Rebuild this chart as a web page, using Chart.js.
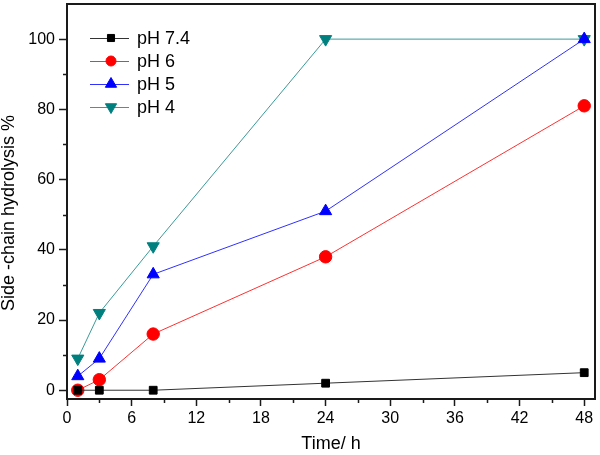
<!DOCTYPE html>
<html>
<head>
<meta charset="utf-8">
<script src="https://cdn.jsdelivr.net/npm/chart.js@4/dist/chart.umd.min.js"></script>
<style>
  html, body { margin: 0; padding: 0; background: #fff; }
  #wrap { width: 600px; height: 455px; }
</style>
</head>
<body>
<div id="wrap"><canvas id="hydroChart" width="600" height="455"></canvas></div>
<script>
// sampling times (h)
const times = [1, 3, 8, 24, 48];
// side-chain hydrolysis % for each pH
const ph74 = [0, 0, 0, 2, 5];
const ph6 = [0, 3, 16, 38, 81];
const ph5 = [4, 9, 33, 51, 100];
const ph4 = [9, 22, 41, 100, 100];

const seriesNames = ['pH 7.4', 'pH 6', 'pH 5', 'pH 4'];
const xTicks = [0, 6, 12, 18, 24, 30, 36, 42, 48];
const yTicks = [0, 20, 40, 60, 80, 100];
const xMinor = [3, 9, 15, 21, 27, 33, 39, 45];
const yMinor = [10, 30, 50, 70, 90];

function toPoints(vals){
    return vals.map((v, i) => ({x: times[i], y: v}));
}

const styles = [
    {color: '#000000', line: '#333333', point: 'rect', radius: 5.5, legR: 5},
    {color: '#ff0000', line: '#ff3030', point: 'circle', radius: 6.2, legR: 5},
    {color: '#0000ff', line: '#3030ff', point: 'triangle', radius: 7, legR: 6.5},
    {color: '#007f7f', line: '#3a9a9a', point: 'triangle', radius: 7, legR: 6.5, rotation: 180}
];

const allData = [ph74, ph6, ph5, ph4];
const fontFamily = '"Liberation Sans", Arial, sans-serif';

// frame, minor ticks, y title and legend
const framePlugin = {
    id: 'frame',
    afterDraw(chart){
        const ctx = chart.ctx;
        const a = chart.chartArea;
        const xs = chart.scales.x, ys = chart.scales.y;
        ctx.save();
        ctx.strokeStyle = '#1a1a1a';
        ctx.lineWidth = 2;
        ctx.strokeRect(a.left, a.top, a.right - a.left, a.bottom - a.top);
        ctx.lineWidth = 1.5;
        ctx.beginPath();
        xMinor.forEach(v => {
            const px = Math.round(xs.getPixelForValue(v)) + 0.5;
            ctx.moveTo(px, a.bottom);
            ctx.lineTo(px, a.bottom + 4);
        });
        yMinor.forEach(v => {
            const py = Math.round(ys.getPixelForValue(v)) + 0.5;
            ctx.moveTo(a.left, py);
            ctx.lineTo(a.left - 4, py);
        });
        ctx.stroke();

        // y axis title
        ctx.save();
        ctx.translate(9, 213);
        ctx.rotate(-Math.PI / 2);
        ctx.font = '18px ' + fontFamily;
        ctx.fillStyle = '#000';
        ctx.textAlign = 'center';
        ctx.textBaseline = 'middle';
        ctx.fillText('Side -chain hydrolysis %', 0, 0);
        ctx.restore();

        // legend
        ctx.font = '18px ' + fontFamily;
        ctx.textBaseline = 'middle';
        seriesNames.forEach((name, i) => {
            const s = styles[i];
            const y = 38 + i * 23;
            ctx.strokeStyle = s.line;
            ctx.lineWidth = 1;
            ctx.beginPath();
            ctx.moveTo(90, y + 0.5);
            ctx.lineTo(129, y + 0.5);
            ctx.stroke();
            ctx.fillStyle = s.color;
            ctx.strokeStyle = s.color;
            Chart.helpers.drawPoint(ctx, {pointStyle: s.point, radius: s.legR, rotation: s.rotation || 0, borderWidth: 1}, 111, y);
            ctx.fillStyle = '#000';
            ctx.fillText(name, 137, y + 1);
        });
        ctx.restore();
    }
};

function createChart(){
    const datasets = allData.map((vals, i) => ({
        label: seriesNames[i],
        data: toPoints(vals),
        borderColor: styles[i].line,
        borderWidth: 1,
        backgroundColor: styles[i].color,
        pointBackgroundColor: styles[i].color,
        pointBorderColor: styles[i].color,
        pointBorderWidth: 1,
        pointStyle: styles[i].point,
        pointRadius: styles[i].radius,
        pointRotation: styles[i].rotation || 0,
        tension: 0,
        fill: false,
        clip: false
    }));

    const font = {family: fontFamily, size: 16};

    new Chart(document.getElementById('hydroChart'), {
        type: 'line',
        data: {datasets: datasets},
        options: {
            responsive: false,
            animation: false,
            layout: {autoPadding: false, padding: {left: 0, right: 5, top: 4, bottom: 0}},
            plugins: {
                legend: {display: false},
                tooltip: {enabled: false}
            },
            scales: {
                x: {
                    type: 'linear',
                    min: 0,
                    max: 49,
                    afterBuildTicks: (scale) => { scale.ticks = xTicks.map(v => ({value: v})); },
                    afterFit: (scale) => {
                        scale.height = 56;
                        scale.paddingLeft = 0;
                        scale.paddingRight = 0;
                    },
                    grid: {
                        drawOnChartArea: false,
                        drawTicks: true,
                        tickLength: 7,
                        tickWidth: 1.5,
                        tickColor: '#1a1a1a'
                    },
                    border: {display: false},
                    ticks: {color: '#000', font: font, padding: 3, maxRotation: 0},
                    title: {
                        display: true,
                        text: 'Time/ h',
                        color: '#000',
                        font: {family: fontFamily, size: 18},
                        padding: {top: 8, bottom: 0}
                    }
                },
                y: {
                    type: 'linear',
                    min: -2.5,
                    max: 110,
                    afterBuildTicks: (scale) => { scale.ticks = yTicks.map(v => ({value: v})); },
                    afterFit: (scale) => {
                        scale.width = 67;
                        scale.paddingTop = 0;
                        scale.paddingBottom = 0;
                    },
                    grid: {
                        drawOnChartArea: false,
                        drawTicks: true,
                        tickLength: 8,
                        tickWidth: 1.5,
                        tickColor: '#1a1a1a'
                    },
                    border: {display: false},
                    ticks: {color: '#000', font: font, padding: 4}
                }
            }
        },
        plugins: [framePlugin]
    });
}

document.addEventListener('DOMContentLoaded', createChart);
</script>
</body>
</html>
